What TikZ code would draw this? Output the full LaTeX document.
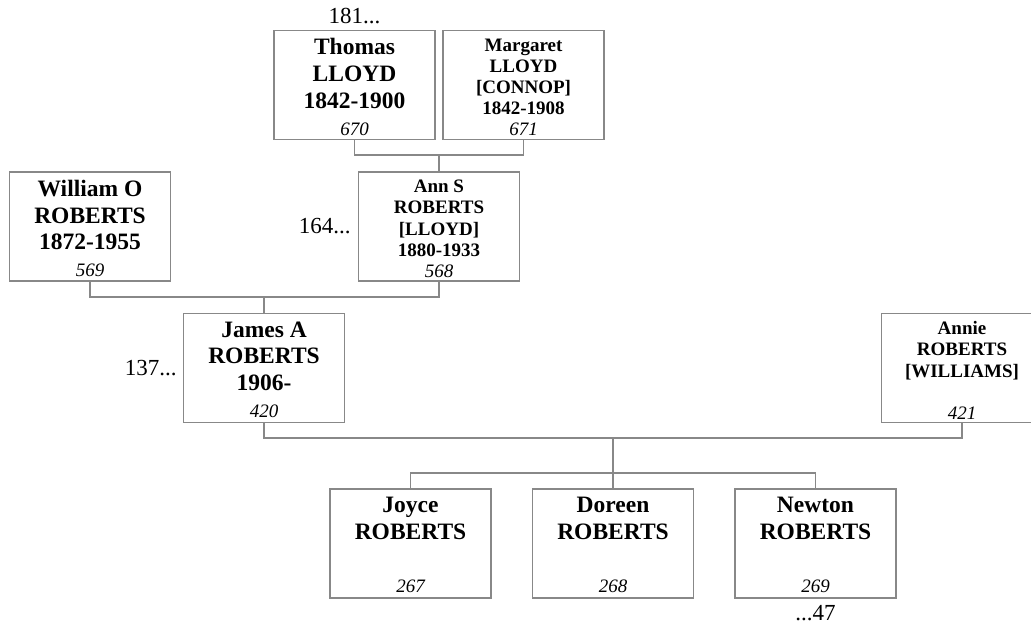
\documentclass[tikz,border=0pt]{standalone}
\usepackage{fontspec}
\setmainfont{Liberation Serif}
\definecolor{boxgray}{RGB}{136,136,136}
\newcommand{\refno}[1]{{\fontsize{19}{19}\selectfont\mdseries\itshape #1}}
\begin{document}
\begin{tikzpicture}[x=1pt,y=-1pt,
  person/.style={draw=boxgray, line width=1.2pt, minimum width=161pt, minimum height=109pt, inner sep=0pt},
  bigname/.style={anchor=north, align=center, inner sep=0pt, font=\fontsize{23.5}{26.7}\selectfont\bfseries},
  smallname/.style={anchor=north, align=center, inner sep=0pt, font=\fontsize{19}{21.2}\selectfont\bfseries},
  link/.style={draw=boxgray, line width=1.1pt},
  more/.style={inner sep=0pt, font=\fontsize{23}{23}\selectfont}]
\useasboundingbox (0,0) rectangle (1031,625);
\clip (0,0) rectangle (1031,625);
\node[person] (thomas) at (354.5,85) {};
\node[bigname] (thomastext) at ([yshift=-8.5pt]thomas.north) {Thomas\\LLOYD\\1842-1900\\\refno{670}};
\node[person] (margaret) at (523.5,85) {};
\node[smallname] (margarettext) at ([yshift=-8.5pt]margaret.north) {Margaret\\LLOYD\\{[CONNOP]}\\1842-1908\\\refno{671}};
\node[person] (william) at (90,226.5) {};
\node[bigname] (williamtext) at ([yshift=-8.5pt]william.north) {William O\\ROBERTS\\1872-1955\\\refno{569}};
\node[person] (ann) at (439,226.5) {};
\node[smallname] (anntext) at ([yshift=-8.5pt]ann.north) {Ann S\\ROBERTS\\{[LLOYD]}\\1880-1933\\\refno{568}};
\node[person] (james) at (264,368) {};
\node[bigname] (jamestext) at ([yshift=-8.5pt]james.north) {James A\\ROBERTS\\1906-\\\refno{420}};
\node[person] (annie) at (962,368) {};
\node[smallname] (annietext) at ([yshift=-8.5pt]annie.north) {Annie\\ROBERTS\\{[WILLIAMS]}\\\mbox{}\\\refno{421}};
\node[person] (joyce) at (410.5,543.5) {};
\node[bigname] (joycetext) at ([yshift=-8.5pt]joyce.north) {Joyce\\ROBERTS\\\mbox{}\\\refno{267}};
\node[person] (doreen) at (613,543.5) {};
\node[bigname] (doreentext) at ([yshift=-8.5pt]doreen.north) {Doreen\\ROBERTS\\\mbox{}\\\refno{268}};
\node[person] (newton) at (815.5,543.5) {};
\node[bigname] (newtontext) at ([yshift=-8.5pt]newton.north) {Newton\\ROBERTS\\\mbox{}\\\refno{269}};
\node[more, anchor=base] (thomasmore) at ([yshift=6pt]thomas.north) {181...};
\node[more, anchor=east] (annmore) at ([xshift=-7pt]ann.west) {164...};
\node[more, anchor=east] (jamesmore) at ([xshift=-6pt]james.west) {137...};
\node[more, anchor=base] (newtonmore) at ([yshift=-22pt]newton.south) {...47};
\coordinate (m1) at (439,155);
\coordinate (m2) at (264,297);
\coordinate (m3) at (613,438);
\coordinate (kids) at (613,473);
\draw[link] (thomas.south) |- (m1) -| (margaret.south);
\draw[link] (m1) -- (ann.north);
\draw[link] (william.south) |- (m2) -| (ann.south);
\draw[link] (m2) -- (james.north);
\draw[link] (james.south) |- (m3) -| (annie.south);
\draw[link] (m3) -- (doreen.north);
\draw[link] (joyce.north) |- (kids) -| (newton.north);
\end{tikzpicture}
\end{document}
